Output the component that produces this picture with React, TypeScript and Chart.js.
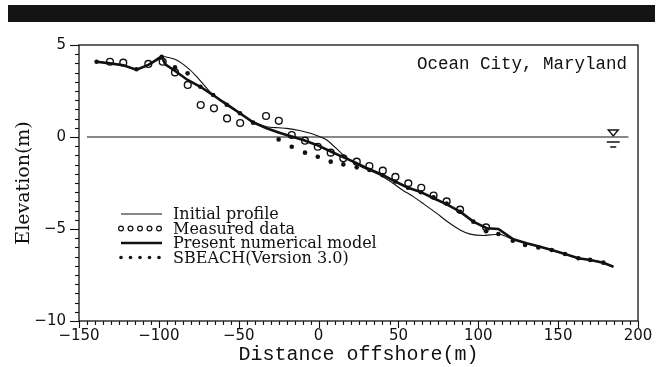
import React, { useEffect, useRef } from 'react';
import { Chart, registerables } from 'chart.js';

Chart.register(...registerables);

// Axis ticks
const X_TICKS = [-150, -100, -50, 0, 50, 100, 150, 200];
const Y_TICKS = [-10, -5, 0, 5];
const X_MINOR_STEP = 5;
const Y_MINOR_STEP = 0.5;

// Initial beach profile (m)
const INITIAL_X = [-139, -130.6, -122.3, -114, -106.6, -99, -94, -88.9, -81.6, -76.3, -70, -65.9, -57, -49.2, -40.9, -32.5, -25, -20, -12, -3.3, 5.1, 15.5, 22, 30, 38, 45, 52, 59.3, 66, 74, 81, 88.6, 95, 103, 110, 114, 121.9, 130.3, 138.7, 146, 154.3, 162.7, 170, 178.3, 184.6];
const INITIAL_Y = [4.09, 4.0, 3.9, 3.66, 3.92, 4.38, 4.32, 4.18, 3.73, 3.28, 2.65, 2.28, 1.8, 1.29, 0.83, 0.56, 0.5, 0.47, 0.35, 0.15, -0.16, -0.98, -1.4, -1.75, -2.05, -2.42, -2.85, -3.24, -3.65, -4.15, -4.62, -5.05, -5.28, -5.35, -5.3, -5.3, -5.56, -5.78, -5.96, -6.14, -6.36, -6.59, -6.68, -6.83, -7.05];

// Measured post-storm profile
const MEASURED_X = [-130.6, -122.3, -106.6, -97.6, -89.9, -81.9, -73.8, -65.5, -57.3, -49.1, -32.9, -24.9, -16.8, -8.5, -0.5, 7.6, 15.5, 23.9, 31.8, 40.2, 48.1, 56.2, 64.3, 72, 80.2, 88.6, 104.9];
const MEASURED_Y = [4.09, 4.04, 3.97, 4.09, 3.51, 2.83, 1.74, 1.56, 1.01, 0.76, 1.14, 0.88, 0.11, -0.2, -0.53, -0.85, -1.16, -1.34, -1.58, -1.83, -2.17, -2.52, -2.76, -3.18, -3.5, -3.95, -4.91];

// Present numerical model
const MODEL_X = [-139, -130.6, -122.3, -114, -106.6, -98.2, -96, -90, -82, -74, -66, -61.7, -55, -49.2, -41, -32.5, -25, -20, -10, -1.2, 8, 15, 21.8, 30, 40.5, 48, 56, 63.5, 72, 80, 88.6, 96.9, 105.3, 112.6, 121.9, 130.3, 138.7, 146, 154.3, 162.7, 170, 178.3, 184.6];
const MODEL_Y = [4.09, 4.0, 3.9, 3.66, 3.92, 4.36, 3.95, 3.6, 3.1, 2.73, 2.28, 2.01, 1.62, 1.29, 0.8, 0.47, 0.25, 0.11, -0.15, -0.43, -0.8, -1.08, -1.34, -1.68, -2.07, -2.42, -2.76, -2.97, -3.33, -3.65, -4.06, -4.6, -4.96, -5.0, -5.56, -5.78, -5.96, -6.14, -6.36, -6.59, -6.68, -6.83, -7.05];

// SBEACH (Version 3.0) result
const SBEACH_X = [-139, -114, -98.2, -89.9, -82, -74, -66, -57.5, -49.2, -41, -25, -16.8, -8.5, -0.5, 7.6, 15.5, 23.9, 31.8, 40, 48, 56, 64, 72, 80.2, 88.6, 96.9, 104.9, 112.6, 121.6, 129.3, 137.6, 146, 154.3, 162.7, 170, 178.3];
const SBEACH_Y = [4.09, 3.68, 4.36, 3.79, 3.46, 2.73, 2.28, 1.75, 1.29, 0.78, -0.13, -0.53, -0.85, -1.07, -1.34, -1.49, -1.65, -1.79, -2.07, -2.42, -2.76, -3.0, -3.28, -3.62, -4.06, -4.6, -5.12, -5.27, -5.64, -5.87, -6.0, -6.14, -6.36, -6.59, -6.68, -6.83];

// Still water level
const SWL_X = [-145, 194];
const SWL_Y = [0, 0];
const SWL_MARK_X = 184.5;

const SERIES_LABELS = ['Initial profile', 'Measured data', 'Present numerical model', 'SBEACH(Version 3.0)'];
const SITE_NAME = 'Ocean City, Maryland';
const X_TITLE = 'Distance offshore(m)';
const Y_TITLE = 'Elevation(m)';

const INK = '#111111';

const pts = (xs: number[], ys: number[]) => xs.map((x, i) => ({ x, y: ys[i] }));
const fmt = (v: number) => String(v).replace('-', '\u2212');

const decorations = {
  id: 'decorations',
  afterDraw(chart: any) {
    const { ctx, chartArea } = chart;
    const { left, right, top, bottom } = chartArea;
    const xs = chart.scales.x;
    const ys = chart.scales.y;
    ctx.save();

    // header band
    ctx.fillStyle = '#141414';
    ctx.fillRect(8, 5, 647, 17);

    // frame
    ctx.strokeStyle = INK;
    ctx.lineWidth = 1.3;
    ctx.strokeRect(left, top, right - left, bottom - top);

    // x ticks (outward)
    ctx.lineWidth = 1.1;
    const nx = Math.round((X_TICKS[X_TICKS.length - 1] - X_TICKS[0]) / X_MINOR_STEP);
    for (let k = 0; k <= nx; k++) {
      const v = X_TICKS[0] + k * X_MINOR_STEP;
      const px = Math.round(xs.getPixelForValue(v)) + 0.5;
      const len = X_TICKS.includes(v) ? 7 : 4;
      ctx.beginPath();
      ctx.moveTo(px, bottom);
      ctx.lineTo(px, bottom + len);
      ctx.stroke();
    }
    // y ticks (outward)
    const ny = Math.round((Y_TICKS[Y_TICKS.length - 1] - Y_TICKS[0]) / Y_MINOR_STEP);
    for (let k = 0; k <= ny; k++) {
      const v = Y_TICKS[0] + k * Y_MINOR_STEP;
      const py = Math.round(ys.getPixelForValue(v)) + 0.5;
      const len = Y_TICKS.includes(v) ? 9 : 4;
      ctx.beginPath();
      ctx.moveTo(left, py);
      ctx.lineTo(left - len, py);
      ctx.stroke();
    }

    // site name
    ctx.fillStyle = INK;
    ctx.font = '17.5px "Liberation Mono", monospace';
    ctx.textAlign = 'right';
    ctx.textBaseline = 'middle';
    ctx.fillText(SITE_NAME, right - 11, 64);

    // still water level symbol
    const mx = xs.getPixelForValue(SWL_MARK_X);
    const my = ys.getPixelForValue(0);
    ctx.lineWidth = 1.4;
    ctx.beginPath();
    ctx.moveTo(mx - 5, my - 7);
    ctx.lineTo(mx + 5, my - 7);
    ctx.lineTo(mx, my - 1);
    ctx.closePath();
    ctx.stroke();
    ctx.beginPath();
    ctx.moveTo(mx - 6.5, my + 5);
    ctx.lineTo(mx + 6.5, my + 5);
    ctx.moveTo(mx - 3, my + 10);
    ctx.lineTo(mx + 3, my + 10);
    ctx.stroke();

    // legend
    const lx0 = 121;
    const lx1 = 162;
    const rows = [214, 228.5, 243, 257.5];
    const dotXs = [121, 130.5, 140, 149.5, 159];
    ctx.font = '16px "DejaVu Serif", serif';
    ctx.textAlign = 'left';
    ctx.textBaseline = 'middle';
    rows.forEach((ry, i) => {
      ctx.strokeStyle = INK;
      ctx.fillStyle = INK;
      if (i === 0 || i === 2) {
        ctx.lineWidth = i === 0 ? 1.1 : 2.6;
        ctx.beginPath();
        ctx.moveTo(lx0, ry);
        ctx.lineTo(lx1, ry);
        ctx.stroke();
      } else if (i === 1) {
        ctx.lineWidth = 1.2;
        dotXs.forEach((dx) => {
          ctx.beginPath();
          ctx.arc(dx, ry, 2.4, 0, Math.PI * 2);
          ctx.stroke();
        });
      } else {
        dotXs.forEach((dx) => {
          ctx.beginPath();
          ctx.arc(dx, ry, 1.8, 0, Math.PI * 2);
          ctx.fill();
        });
      }
      ctx.fillText(SERIES_LABELS[i], 173, ry + 1);
    });

    ctx.restore();
  },
};

export default function App() {
  const canvasRef = useRef<HTMLCanvasElement | null>(null);

  useEffect(() => {
    document.body.style.margin = '0';
    const canvas = canvasRef.current;
    if (!canvas) return;
    const chart = new Chart(canvas, {
      type: 'scatter',
      data: {
        datasets: [
          {
            label: SERIES_LABELS[3],
            data: pts(SBEACH_X, SBEACH_Y),
            showLine: false,
            pointRadius: 2.3,
            pointBackgroundColor: INK,
            pointBorderWidth: 0,
          },
          {
            label: SERIES_LABELS[1],
            data: pts(MEASURED_X, MEASURED_Y),
            showLine: false,
            pointRadius: 3.4,
            pointBackgroundColor: 'rgba(0,0,0,0)',
            pointBorderColor: INK,
            pointBorderWidth: 1.4,
          },
          {
            label: SERIES_LABELS[2],
            data: pts(MODEL_X, MODEL_Y),
            showLine: true,
            borderColor: INK,
            borderWidth: 2.6,
            pointRadius: 0,
            tension: 0,
          },
          {
            label: SERIES_LABELS[0],
            data: pts(INITIAL_X, INITIAL_Y),
            showLine: true,
            borderColor: INK,
            borderWidth: 1.1,
            pointRadius: 0,
            tension: 0.25,
          },
          {
            label: 'SWL',
            data: pts(SWL_X, SWL_Y),
            showLine: true,
            borderColor: INK,
            borderWidth: 1.2,
            pointRadius: 0,
          },
        ],
      },
      options: {
        responsive: false,
        animation: false,
        devicePixelRatio: 1,
        layout: { padding: { left: 0, top: 45, right: 26, bottom: 0 } },
        plugins: {
          legend: { display: false },
          tooltip: { enabled: false },
        },
        scales: {
          x: {
            type: 'linear',
            min: X_TICKS[0],
            max: X_TICKS[X_TICKS.length - 1],
            grid: { display: false, drawTicks: false },
            border: { display: false },
            afterBuildTicks: (s: any) => {
              s.ticks = X_TICKS.map((v) => ({ value: v }));
            },
            afterFit: (s: any) => {
              s.height = 46;
            },
            ticks: {
              autoSkip: false,
              maxRotation: 0,
              padding: 6,
              color: INK,
              font: { family: '"DejaVu Sans", sans-serif', size: 15 },
              callback: (v: any) => fmt(Number(v)),
            },
            title: {
              display: true,
              text: X_TITLE,
              color: INK,
              font: { family: '"Liberation Mono", monospace', size: 20 },
              padding: { top: 4, bottom: 0 },
            },
          },
          y: {
            type: 'linear',
            min: Y_TICKS[0],
            max: Y_TICKS[Y_TICKS.length - 1],
            grid: { display: false, drawTicks: false },
            border: { display: false },
            afterBuildTicks: (s: any) => {
              s.ticks = Y_TICKS.map((v) => ({ value: v }));
            },
            afterFit: (s: any) => {
              s.width = 79;
            },
            ticks: {
              autoSkip: false,
              padding: 13,
              color: INK,
              font: { family: '"DejaVu Sans", sans-serif', size: 15 },
              callback: (v: any) => fmt(Number(v)),
            },
            title: {
              display: true,
              text: Y_TITLE,
              color: INK,
              font: { family: '"DejaVu Serif", serif', size: 19 },
              padding: { top: 13, bottom: 0 },
            },
          },
        },
      },
      plugins: [decorations],
    });
    return () => chart.destroy();
  }, []);

  return (
    <div style={{ width: 664, height: 367, position: 'relative', background: '#fff' }}>
      <canvas ref={canvasRef} width={664} height={367} style={{ display: 'block' }} />
    </div>
  );
}
